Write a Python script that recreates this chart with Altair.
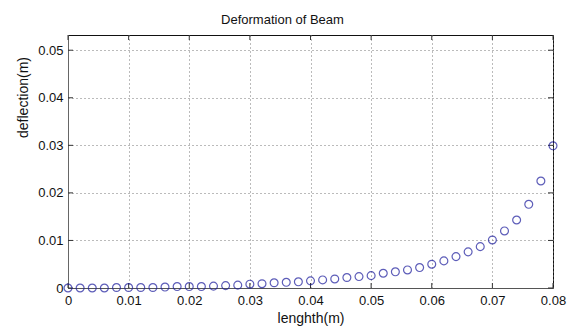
import altair as alt
import pandas as pd

# positions along the beam (m)
length_m = [0.000, 0.002, 0.004, 0.006, 0.008, 0.010, 0.012, 0.014, 0.016, 0.018,
            0.020, 0.022, 0.024, 0.026, 0.028, 0.030, 0.032, 0.034, 0.036, 0.038,
            0.040, 0.042, 0.044, 0.046, 0.048, 0.050, 0.052, 0.054, 0.056, 0.058,
            0.060, 0.062, 0.064, 0.066, 0.068, 0.070, 0.072, 0.074, 0.076, 0.078,
            0.080]
# deflection (m)
deflection_m = [0.0000, 0.0000, 0.0000, 0.0000, 0.0001, 0.0001, 0.0001, 0.0001, 0.0002, 0.0003,
                0.0003, 0.0003, 0.0004, 0.0005, 0.0006, 0.0008, 0.0009, 0.0011, 0.0012, 0.0013,
                0.0015, 0.0017, 0.0019, 0.0022, 0.0024, 0.0026, 0.0031, 0.0034, 0.0038, 0.0043,
                0.0050, 0.0057, 0.0066, 0.0076, 0.0087, 0.0101, 0.0120, 0.0143, 0.0176, 0.0225,
                0.0299]

x_ticks = [0, 0.01, 0.02, 0.03, 0.04, 0.05, 0.06, 0.07, 0.08]
y_ticks = [0, 0.01, 0.02, 0.03, 0.04, 0.05]

W, H = 485, 253
FONT = "Liberation Sans"

df = pd.DataFrame({"x": length_m, "y": deflection_m})
dfx = pd.DataFrame({"t": x_ticks})
dfy = pd.DataFrame({"t": y_ticks})

xscale = alt.Scale(domain=[0, 0.08], nice=False, zero=False)
yscale = alt.Scale(domain=[0, 0.0532], nice=False, zero=False)

lbl = "datum.value == 0 ? '0' : format(datum.value, '.2f')"
xaxis = alt.Axis(title="lenghth(m)", values=x_ticks, labelExpr=lbl,
                 grid=True, ticks=False, labelPadding=6, titlePadding=4,
                 labelFont=FONT, labelFontSize=13, titleFont=FONT, titleFontSize=14,
                 titleFontWeight="normal", labelColor="#111", titleColor="#111",
                 domainColor="#555", labelFlush=False)
yaxis = alt.Axis(title="deflection(m)", values=y_ticks, labelExpr=lbl,
                 grid=True, ticks=False, labelPadding=5,
                 labelFont=FONT, labelFontSize=13, titleFont=FONT, titleFontSize=14,
                 titleFontWeight="normal", labelColor="#111", titleColor="#111",
                 domainColor="#666", titleX=-41, titleY=62, titleAlign="center",
                 titleBaseline="alphabetic", titleAngle=270)

points = alt.Chart(df).mark_point(
    shape="circle", filled=False, size=62, strokeWidth=1.2, color="#1a1a9c", clip=False
).encode(
    x=alt.X("x:Q", scale=xscale, axis=xaxis),
    y=alt.Y("y:Q", scale=yscale, axis=yaxis),
)

tick_col = "#333"
bottom_ticks = alt.Chart(dfx).mark_rule(color=tick_col).encode(
    x=alt.X("t:Q", scale=xscale, axis=xaxis), y=alt.value(H), y2=alt.value(H - 5))
top_ticks = alt.Chart(dfx).mark_rule(color=tick_col).encode(
    x=alt.X("t:Q", scale=xscale, axis=xaxis), y=alt.value(0), y2=alt.value(5))
left_ticks = alt.Chart(dfy).mark_rule(color=tick_col).encode(
    y=alt.Y("t:Q", scale=yscale, axis=yaxis), x=alt.value(0), x2=alt.value(5))
right_ticks = alt.Chart(dfy).mark_rule(color=tick_col).encode(
    y=alt.Y("t:Q", scale=yscale, axis=yaxis), x=alt.value(W), x2=alt.value(W - 5))

chart = alt.layer(bottom_ticks, top_ticks, left_ticks, right_ticks, points).properties(
    width=W, height=H,
    title=alt.TitleParams("Deformation of Beam", font=FONT, fontSize=13, fontWeight="normal",
                          color="#111", anchor="middle", dx=-28, offset=8),
    autosize=alt.AutoSizeParams(type="none"),
    padding={"left": 68, "top": 35, "right": 18, "bottom": 39},
    background="white",
).configure_view(stroke="#111", strokeWidth=1).configure_axis(
    gridColor="#777", gridDash=[1, 3], gridOpacity=1, gridWidth=1
)

chart.save("out.html", embed_options={"renderer": "svg", "actions": False})
